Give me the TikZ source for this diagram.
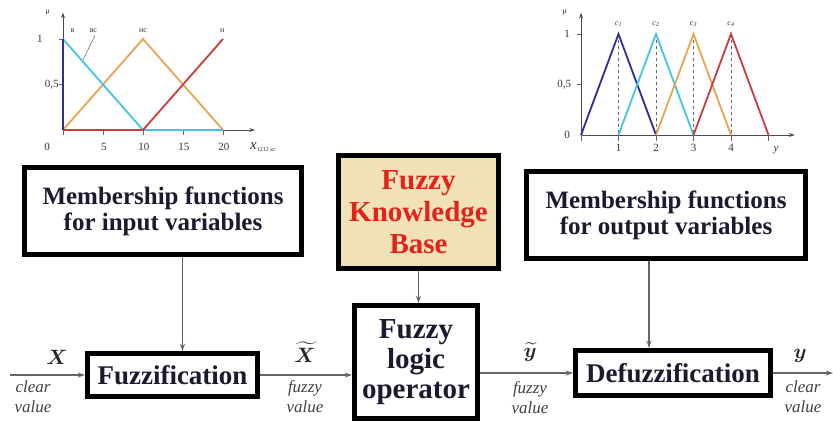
\documentclass[tikz,border=0pt]{standalone}
\usepackage{amsmath}
\usepackage{fontspec}
\setmainfont{Liberation Serif}
\usepackage{tikz}
\usetikzlibrary{arrows.meta, positioning, calc}

\definecolor{mfblue}{HTML}{2E2E9A}
\definecolor{mfcyan}{HTML}{45C3E3}
\definecolor{mforange}{HTML}{E8A452}
\definecolor{mfred}{HTML}{C83C3C}
\definecolor{kbfill}{HTML}{F0E2B6}
\definecolor{kbred}{HTML}{E2231A}
\definecolor{ink}{HTML}{1A1A30}

\begin{document}
\begin{tikzpicture}[
  x=1pt, y=-1pt,
  block/.style={draw, line width=5pt, fill=white, align=center, inner sep=0pt, text=ink},
  flow/.style={-{Stealth[length=2.6mm, width=1.8mm]}, line width=1.4pt, draw=black!60},
  sig/.style={font=\itshape\fontsize{17}{20}\selectfont, align=center, text=black!75, inner sep=1pt},
  var/.style={font=\fontsize{22}{24}\selectfont\boldmath, text=black!85, inner sep=1pt},
  chartaxis/.style={-{Stealth[length=2mm, width=1.4mm]}, line width=0.8pt, draw=black!70},
  curve/.style={line width=1.8pt},
  tick/.style={font=\fontsize{11}{12}\selectfont, text=black!80},
  tiny/.style={font=\fontsize{8}{9}\selectfont, text=black!80}
]
\useasboundingbox (0,0) rectangle (833,421);

% input membership functions
\begin{scope}[shift={(63,130)}, x=8pt, y=91pt]
  \draw[chartaxis] (0,0) -- (24,0);
  \draw[chartaxis] (0,0) -- (0,1.29);
  \foreach \t in {0,5,10,15,20} \draw[black!60] (\t,0) -- (\t,-0.06);
  \foreach \m in {0.5,1} \draw[black!60] (0,\m) -- (-0.5,\m);
  \draw[curve, mforange] (0,0) -- (10,1) -- (20,0);
  \draw[curve, mfcyan] (0,1) -- (10,0) -- (20,0);
  \draw[curve, mfred] (0,0) -- (10,0) -- (20,1);
  \draw[curve, mfblue] (0,0) -- (0,1);
  \draw[black!70] (4,1.04) -- (2.5,0.77);
  \node[tick] (lx0) at (-2,-0.19) {0};
  \foreach \t in {5,10,15,20} \node[tick] (lx\t) at (\t+0.1,-0.19) {\t};
  \node[tick] (lxname) at (25,-0.19) {\fontsize{15}{15}\selectfont\itshape x\raisebox{-2pt}{\upshape\fontsize{6}{6}\selectfont 1212 кг}};
  \node[tick] (ly1) at (-2.9,1) {1};
  \node[tick] (ly05) at (-1.4,0.5) {0,5};
  \node[tiny] (lmu) at (-1.9,1.29) {μ};
  \node[tiny] (lb) at (1.2,1.09) {в};
  \node[tiny] (lbs) at (3.8,1.09) {вс};
  \node[tiny] (lns) at (10,1.09) {нс};
  \node[tiny] (ln) at (19.9,1.09) {н};
\end{scope}

% output membership functions
\begin{scope}[shift={(581,135)}, x=37.5pt, y=101pt]
  \draw[chartaxis] (0,0) -- (5.7,0);
  \draw[chartaxis] (0,0) -- (0,1.21);
  \foreach \t in {0,...,5} \draw[black!60] (\t,0) -- (\t,-0.06);
  \foreach \m in {0.5,1} \draw[black!60] (0,\m) -- (-0.1,\m);
  \foreach \t in {1,...,4} \draw[black!60, dashed] (\t,1) -- (\t,0);
  \draw[curve, mfblue] (0,0) -- (1,1) -- (2,0);
  \draw[curve, mfcyan] (1,0) -- (2,1) -- (3,0);
  \draw[curve, mforange] (2,0) -- (3,1) -- (4,0);
  \draw[curve, mfred] (3,0) -- (4,1) -- (5,0);
  \foreach \t in {1,...,4} {
    \node[tick] (ly\t) at (\t,-0.13) {\t};
    \node[tiny] (lc\t) at (\t,1.1) {\itshape c\textsubscript{\t}};
  }
  \node[tick] (lyname) at (5.2,-0.15) {\itshape y};
  \node[tick] (lo1) at (-0.37,1) {1};
  \node[tick] (lo05) at (-0.45,0.5) {0,5};
  \node[tick] (lo0) at (-0.37,0) {0};
  \node[tiny] (lomu) at (-0.43,1.21) {μ};
\end{scope}

\node[block, minimum width=277, minimum height=87, font=\bfseries\fontsize{25}{26}\selectfont]
  (mfin) at (163,211) {Membership functions\\for input variables};
\node[block, fill=kbfill, text=kbred, minimum width=160, minimum height=113, font=\bfseries\fontsize{29}{32}\selectfont]
  (kb) at (418.5,212) {Fuzzy\\Knowledge\\Base};
\node[block, minimum width=279, minimum height=87, font=\bfseries\fontsize{25}{26}\selectfont]
  (mfout) at (666,215) {Membership functions\\for output variables};
\node[block, minimum width=170, minimum height=43, font=\bfseries\fontsize{27}{28}\selectfont]
  (fuzz) at (172.5,375) {Fuzzification};
\node[block, minimum width=123, minimum height=113, font=\bfseries\fontsize{29}{30}\selectfont]
  (op) at (416,362) {Fuzzy\\logic\\operator};
\node[block, minimum width=195, minimum height=45, font=\bfseries\fontsize{27}{28}\selectfont]
  (defuz) at (673,373) {Defuzzification};

\coordinate (in) at (10,375);
\coordinate (out) at (833,373);

\draw[flow] (in) -- (fuzz);
\draw[flow] (fuzz) -- (fuzz -| op.west);
\draw[flow] (op.east |- defuz) -- (defuz);
\draw[flow] (defuz) -- (out);
\draw[flow] ([xshift=10pt]fuzz.north |- mfin.south) -- ([xshift=10pt]fuzz.north);
\draw[flow] (kb) -- (kb |- op.north);
\draw[flow] ([xshift=-24pt]defuz.north |- mfout.south) -- ([xshift=-24pt]defuz.north);

\node[var] (xin) at (57,357) {$X$};
\node[sig] (sin) at (33,397) {clear\\value};
\node[var] (xf) at (305,352) {$\widetilde{X}$};
\node[sig] (sxf) at (305,397) {fuzzy\\value};
\node[var] (yf) at (530,352) {$\widetilde{y}$};
\node[sig] (syf) at (530,398) {fuzzy\\value};
\node[var] (yout) at (800,356) {$y$};
\node[sig] (sout) at (803,397) {clear\\value};
\end{tikzpicture}
\end{document}
